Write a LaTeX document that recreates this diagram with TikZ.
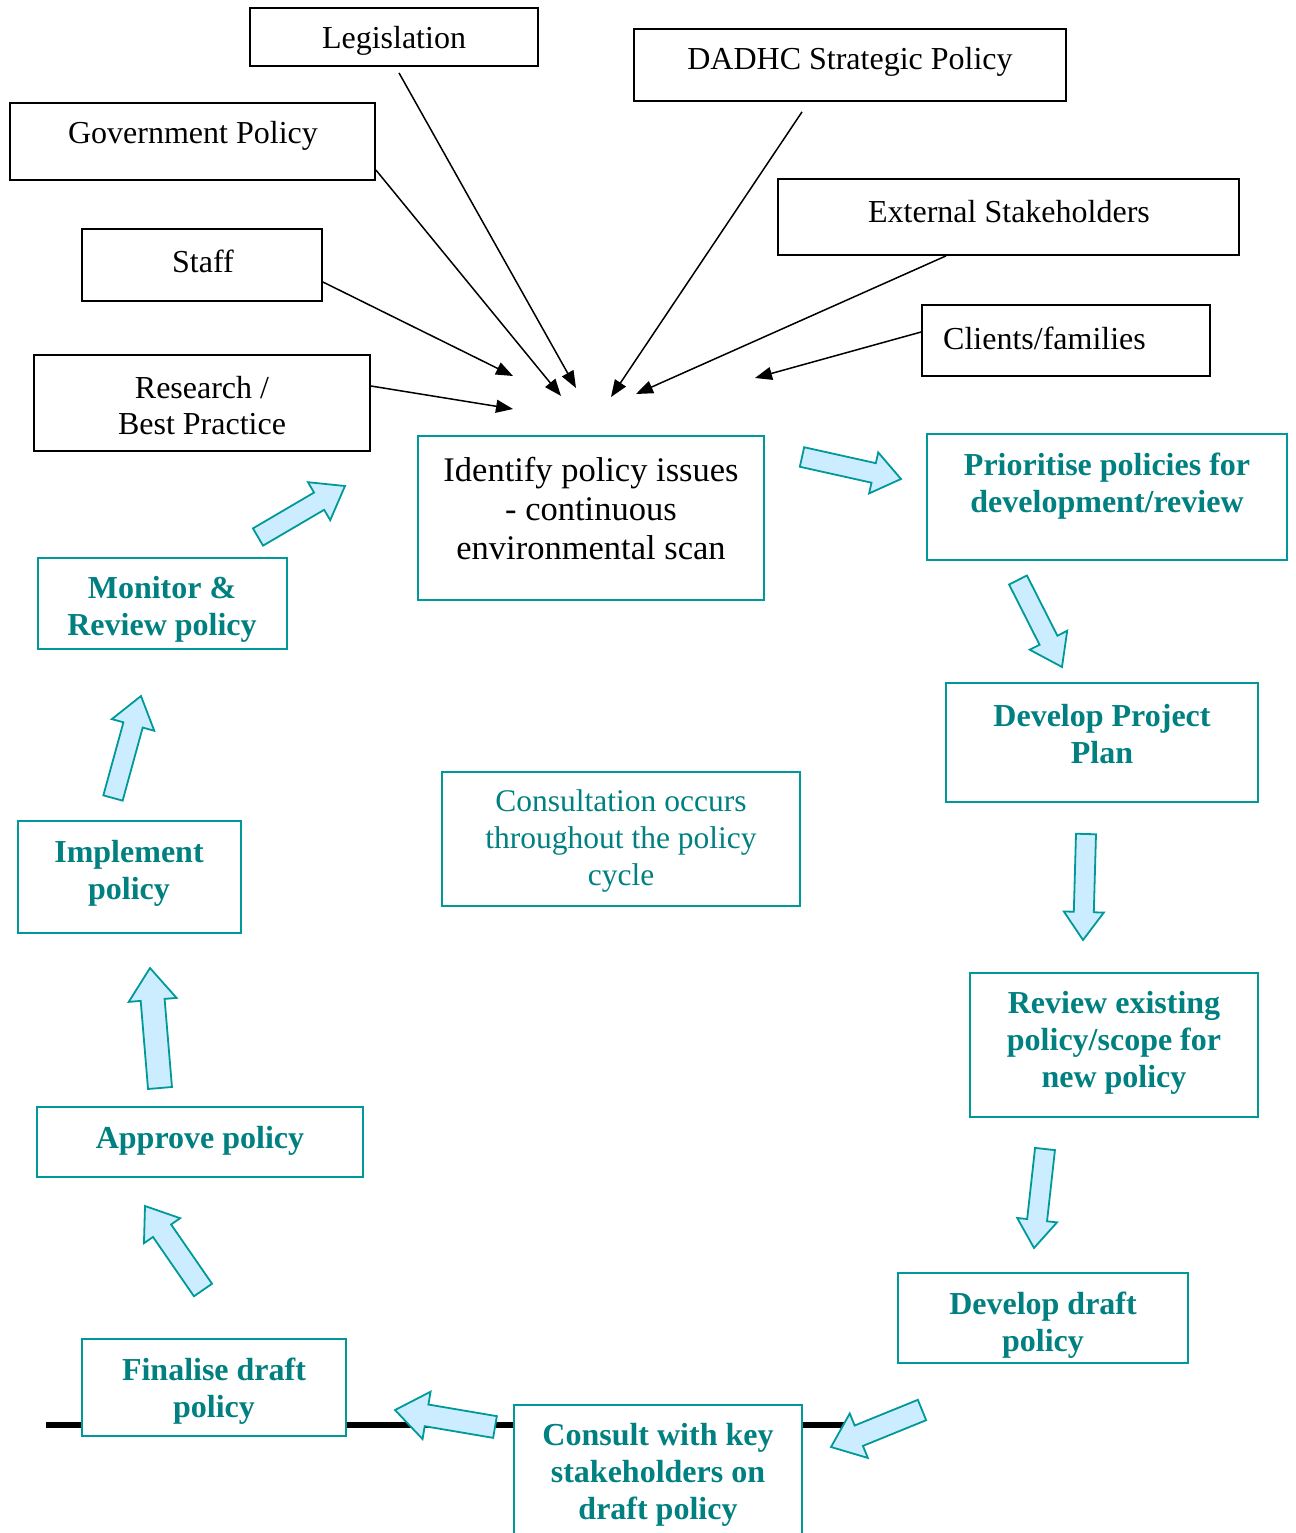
\documentclass[tikz,border=0pt]{standalone}
\usepackage{fontspec}
\setmainfont{Liberation Serif}
\usetikzlibrary{arrows.meta,calc}
\definecolor{tealtxt}{HTML}{008080}
\definecolor{tealline}{HTML}{009999}
\definecolor{arrowfill}{HTML}{CCECFF}
\newdimen\faAx \newdimen\faAy \newdimen\faBx \newdimen\faBy
\newcommand\fatarrow[5]{%
  \pgfextractx{\faAx}{\pgfpointanchor{#1}{center}}%
  \pgfextracty{\faAy}{\pgfpointanchor{#1}{center}}%
  \pgfextractx{\faBx}{\pgfpointanchor{#2}{center}}%
  \pgfextracty{\faBy}{\pgfpointanchor{#2}{center}}%
  \pgfmathsetmacro\faAng{atan2(\faBy-\faAy,\faBx-\faAx)}%
  \pgfmathsetmacro\faLen{veclen(\faBx-\faAx,\faBy-\faAy)}%
  \pgfmathsetmacro\faNeck{\faLen-#5}%
  \draw[fat, shift={(#1)}, rotate=\faAng] (0,-#3) -- (\faNeck,-#3) -- (\faNeck,-#4) -- (\faLen,0) -- (\faNeck,#4) -- (\faNeck,#3) -- (0,#3) -- cycle;%
}
\tikzset{
  blackbox/.style={draw=black, line width=1.8pt, inner sep=0pt},
  tealbox/.style={draw=tealline, line width=2pt, fill=white, inner sep=0pt},
  blk/.style={text=black, align=center, inner sep=0pt, yshift=-3pt, font=\fontsize{32}{36}\selectfont},
  idt/.style={text=black, align=center, inner sep=0pt, yshift=-2pt, font=\fontsize{34.5}{39}\selectfont},
  tbold/.style={text=tealtxt, align=center, inner sep=0pt, yshift=-3pt, font=\fontsize{32}{37}\selectfont\bfseries},
  treg/.style={text=tealtxt, align=center, inner sep=0pt, yshift=-3pt, font=\fontsize{31.5}{37}\selectfont},
  inarrow/.style={draw=black, line width=1.5pt, -{Triangle[length=17pt,width=13pt]}},
  fat/.style={draw=tealline, line width=1.8pt, fill=arrowfill, line join=miter},
}
\begin{document}
\begin{tikzpicture}[x=1pt,y=-1pt]
\useasboundingbox (0,0) rectangle (1295,1533);
% thick base line
\coordinate (lineL) at (46,1425);
\coordinate (lineR) at (846,1425);
\draw[line width=6pt, black] (lineL) -- (lineR);
% black source boxes
\node[blackbox, minimum width=288, minimum height=58] (leg) at (394,37) {};
\node[blackbox, minimum width=365, minimum height=77] (gov) at (192.5,141.5) {};
\node[blackbox, minimum width=240, minimum height=72] (staff) at (202,265) {};
\node[blackbox, minimum width=336, minimum height=96] (res) at (202,403) {};
\node[blackbox, minimum width=432, minimum height=72] (dadhc) at (850,65) {};
\node[blackbox, minimum width=461, minimum height=76] (ext) at (1008.5,217) {};
\node[blackbox, minimum width=288, minimum height=71] (cli) at (1066,340.5) {};
\node[blk] (legt) at (394,38) {Legislation};
\node[blk] (govt) at (193,133) {Government Policy};
\node[blk] (stafft) at (203,258) {Staff};
\node[blk] (rest) at (202,403) {Research /\\Best Practice};
\node[blk] (dadhct) at (850,59) {DADHC Strategic Policy};
\node[blk] (extt) at (1009,209) {External Stakeholders};
\node[blk, anchor=west] (clit) at (943,335) {Clients/families};
% teal cycle boxes
\node[tealbox, minimum width=346, minimum height=164] (iden) at (591,518) {};
\node[tealbox, minimum width=360, minimum height=126] (prio) at (1107,497) {};
\node[tealbox, minimum width=312, minimum height=119] (plan) at (1102,742.5) {};
\node[tealbox, minimum width=288, minimum height=144] (rev) at (1114,1045) {};
\node[tealbox, minimum width=290, minimum height=90] (draft) at (1043,1318) {};
\node[tealbox, minimum width=288, minimum height=140] (cons) at (658,1475) {};
\node[tealbox, minimum width=264, minimum height=97] (fin) at (214,1387.5) {};
\node[tealbox, minimum width=326, minimum height=70] (appr) at (200,1142) {};
\node[tealbox, minimum width=223, minimum height=112] (impl) at (129.5,877) {};
\node[tealbox, minimum width=249, minimum height=91] (mon) at (162.5,603.5) {};
\node[tealbox, minimum width=358, minimum height=134] (occ) at (621,839) {};
\node[idt] (ident) at (591,507) {Identify policy issues\\- continuous\\environmental scan};
\node[tbold] (priot) at (1107,483) {Prioritise policies for\\development/review};
\node[tbold] (plant) at (1102,731) {Develop Project\\Plan};
\node[tbold] (revt) at (1114,1040) {Review existing\\policy/scope for\\new policy};
\node[tbold] (draftt) at (1043,1322) {Develop draft\\policy};
\node[tbold] (const) at (658,1472) {Consult with key\\stakeholders on\\draft policy};
\node[tbold] (fint) at (214,1388) {Finalise draft\\policy};
\node[tbold] (apprt) at (200,1138) {Approve policy};
\node[tbold] (implt) at (129,870) {Implement\\policy};
\node[tbold] (mont) at (162,606) {Monitor \&\\Review policy};
\node[treg] (occt) at (621,838) {Consultation occurs\\throughout the policy\\cycle};
% black input arrows
\coordinate (tleg) at (576,388);
\coordinate (tgov) at (561,396);
\coordinate (tstaff) at (513,376);
\coordinate (tres) at (513,409);
\coordinate (tdadhc) at (611,397);
\coordinate (text) at (636,394);
\coordinate (tcli) at (755,378);
\draw[inarrow] ($(leg.south)+(5,6)$) -- (tleg);
\draw[inarrow] ($(gov.east)+(0,28.5)$) -- (tgov);
\draw[inarrow] ($(staff.east)+(0,17)$) -- (tstaff);
\draw[inarrow] ($(res.east)+(0,-17)$) -- (tres);
\draw[inarrow] ($(dadhc.south)+(-48,10)$) -- (tdadhc);
\draw[inarrow] ($(ext.south)+(-62.5,0)$) -- (text);
\draw[inarrow] ($(cli.west)+(0,-8.5)$) -- (tcli);
% block arrows of the cycle
\coordinate (a1s) at (802,457); \coordinate (a1e) at (901,479);
\coordinate (a2s) at (1018,580); \coordinate (a2e) at (1062,667);
\coordinate (a3s) at (1086,834); \coordinate (a3e) at (1083,940);
\coordinate (a4s) at (1045,1149); \coordinate (a4e) at (1034,1248);
\coordinate (a5s) at (922,1410); \coordinate (a5e) at (831,1447);
\coordinate (a6s) at (495,1427); \coordinate (a6e) at (395,1410);
\coordinate (a7s) at (203,1290); \coordinate (a7e) at (145,1206);
\coordinate (a8s) at (160,1088); \coordinate (a8e) at (150,968);
\coordinate (a9s) at (113,798); \coordinate (a9e) at (141,696);
\coordinate (a10s) at (258,537); \coordinate (a10e) at (345,486);
\fatarrow{a1s}{a1e}{10}{21}{28}
\fatarrow{a2s}{a2e}{10}{21}{30}
\fatarrow{a3s}{a3e}{10}{20}{28}
\fatarrow{a4s}{a4e}{10}{20}{28}
\fatarrow{a5s}{a5e}{11}{24}{30}
\fatarrow{a6s}{a6e}{11}{24}{32}
\fatarrow{a7s}{a7e}{11}{22}{30}
\fatarrow{a8s}{a8e}{12}{24}{32}
\fatarrow{a9s}{a9e}{10}{22}{30}
\fatarrow{a10s}{a10e}{10}{22}{30}
\end{tikzpicture}
\end{document}
